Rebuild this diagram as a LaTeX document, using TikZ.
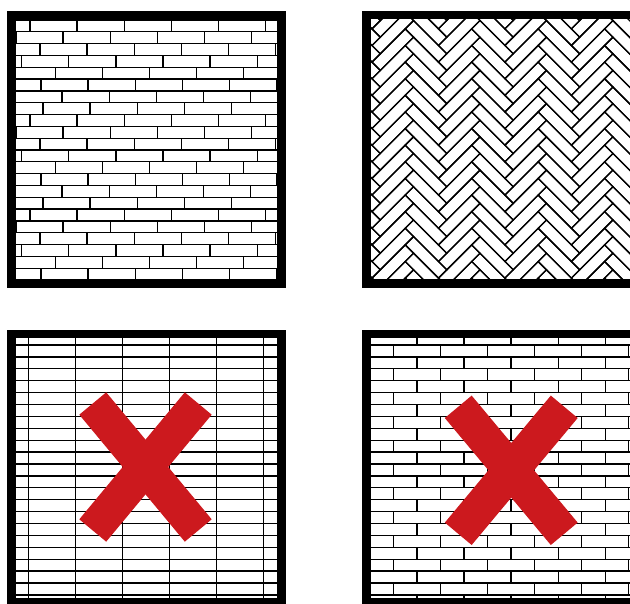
\documentclass[tikz,border=0pt]{standalone}
\definecolor{crossred}{RGB}{204,25,30}
\begin{document}
\begin{tikzpicture}[x=1pt,y=-1pt]
  \tikzset{frame/.style={draw=black,line width=8.5pt},
           joint/.style={draw=black,line width=1.3pt},
           cross/.style={draw=crossred,line width=35pt}};
  \useasboundingbox (0,0) rectangle (630,604);
  % top left: running bond, uneven joints
  \begin{scope}[shift={(7,11)}]
    \begin{scope}
      \clip (8.5,8.5) rectangle (270.2,268.2);
      \foreach \off [count=\r from 0] in {23,9,33,14.7,1.3,34,8,36}
        \foreach \p in {0,1,2} {
          \draw[joint] (0,9+11.82*\r+94.56*\p) -- ++(280,0);
          \foreach \k in {-1,...,6}
            \draw[joint] (\off+47.1*\k,9+11.82*\r+94.56*\p) -- ++(0,11.82);
        }
    \end{scope}
    \draw[frame] (4.25,4.25) rectangle (274.45,272.45);
  \end{scope}
  % top right: herringbone
  \begin{scope}[shift={(362,11)}]
    \begin{scope}
      \clip (8.5,8.5) rectangle (270.2,268.2);
      \begin{scope}[shift={(118,142.5)},rotate=-45]
        \foreach \k in {-4,...,4}
          \foreach \i in {-17,...,17} {
            \draw[joint] (\i*11.75+94*\k,\i*11.75) rectangle ++(47,11.75);
            \draw[joint] (47+\i*11.75+94*\k,\i*11.75+11.75) rectangle ++(11.75,-47);
          }
      \end{scope}
    \end{scope}
    \draw[frame] (4.25,4.25) rectangle (274.45,272.45);
  \end{scope}
  % bottom left: stack bond
  \begin{scope}[shift={(7,330)}]
    \begin{scope}
      \clip (8.5,8.5) rectangle (270.2,268.2);
      \foreach \r in {-1,...,22}
        \draw[joint] (0,15+11.9*\r) -- ++(280,0);
      \foreach \k in {-1,...,6}
        \draw[joint] (21.3+47.1*\k,0) -- ++(0,280);
    \end{scope}
    \draw[cross] (85.75,73.5) -- (191.25,200.5);
    \draw[cross] (191.25,73.5) -- (85.75,200.5);
    \draw[frame] (4.25,4.25) rectangle (274.45,272.45);
  \end{scope}
  % bottom right: half bond
  \begin{scope}[shift={(362,330)}]
    \begin{scope}
      \clip (8.5,8.5) rectangle (270.2,268.2);
      \foreach \r in {-1,...,22} {
        \draw[joint] (0,15+11.9*\r) -- ++(280,0);
        \pgfmathsetmacro{\off}{isodd(\r) ? 7.75 : 31.3}
        \foreach \k in {-1,...,6}
          \draw[joint] (\off+47.1*\k,15+11.9*\r) -- ++(0,11.9);
      }
    \end{scope}
    \draw[cross] (96.25,76.8) -- (202.25,203.8);
    \draw[cross] (202.25,76.8) -- (96.25,203.8);
    \draw[frame] (4.25,4.25) rectangle (274.45,272.45);
  \end{scope}
\end{tikzpicture}
\end{document}
